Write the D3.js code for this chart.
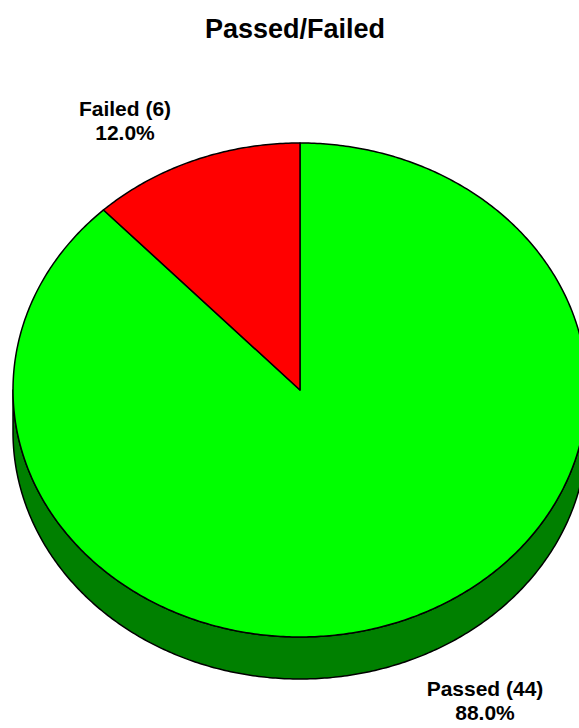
<!DOCTYPE html>
<html>
<head>
<meta charset="utf-8">
<script src="https://cdn.jsdelivr.net/npm/d3@7/dist/d3.min.js"></script>
<style>
  html, body { margin: 0; padding: 0; background: #fff; }
  svg { display: block; }
  text { font-family: "Liberation Sans", Arial, Helvetica, sans-serif; font-weight: bold; fill: #000; }
</style>
</head>
<body>
<svg id="chart" width="579" height="728"></svg>
<script>
// ---- data ----
const title = "Passed/Failed";
const categories = ["Passed", "Failed"];
const counts = [44, 6];
const percentLabels = ["88.0%", "12.0%"];
const topColors = ["#00ff00", "#ff0000"];
const sideColors = ["#008000", "#800000"];

// ---- layout ----
const W = 579, H = 728;
const cx = 300, cy = 390, rx = 287, ry = 247, depth = 42;

const svg = d3.select("#chart");

svg.append("text")
  .attr("x", 295).attr("y", 38)
  .attr("text-anchor", "middle")
  .style("font-size", "27px")
  .text(title);

const pie = d3.pie().sort(null).value(d => d)(counts);
const topColor = d3.scaleOrdinal().domain(categories).range(topColors);
const sideColor = d3.scaleOrdinal().domain(categories).range(sideColors);

const px = a => cx + rx * Math.sin(a);
const py = a => cy - ry * Math.cos(a);
const line = d3.line();

function arcPts(a0, a1, dy) {
  const n = Math.max(2, Math.ceil(Math.abs(a1 - a0) / 0.01));
  return d3.range(n + 1).map(i => {
    const a = a0 + (a1 - a0) * i / n;
    return [px(a), py(a) + dy];
  });
}

// sides (front half: angles PI/2 .. 3PI/2)
const gSide = svg.append("g");
pie.forEach((p, i) => {
  const s0 = Math.max(p.startAngle, Math.PI / 2);
  const s1 = Math.min(p.endAngle, 3 * Math.PI / 2);
  if (s1 <= s0) return;
  const pts = arcPts(s0, s1, 0).concat(arcPts(s1, s0, depth));
  gSide.append("path")
    .attr("d", line(pts) + "Z")
    .attr("fill", sideColor(categories[i]))
    .attr("stroke", "#000")
    .attr("stroke-width", 1.5)
    .attr("stroke-linejoin", "round");
});

// top faces
const gTop = svg.append("g");
pie.forEach((p, i) => {
  const pts = [[cx, cy]].concat(arcPts(p.startAngle, p.endAngle, 0));
  gTop.append("path")
    .attr("d", line(pts) + "Z")
    .attr("fill", topColor(categories[i]))
    .attr("stroke", "#000")
    .attr("stroke-width", 1.5)
    .attr("stroke-linejoin", "round");
});

// labels
const labelPos = [[485, 696], [125, 116]];
pie.forEach((p, i) => {
  const t = svg.append("text")
    .attr("text-anchor", "middle")
    .style("font-size", "21px");
  t.append("tspan").attr("x", labelPos[i][0]).attr("y", labelPos[i][1])
    .text(categories[i] + " (" + counts[i] + ")");
  t.append("tspan").attr("x", labelPos[i][0]).attr("y", labelPos[i][1] + 24)
    .text(percentLabels[i]);
});
</script>
</body>
</html>
